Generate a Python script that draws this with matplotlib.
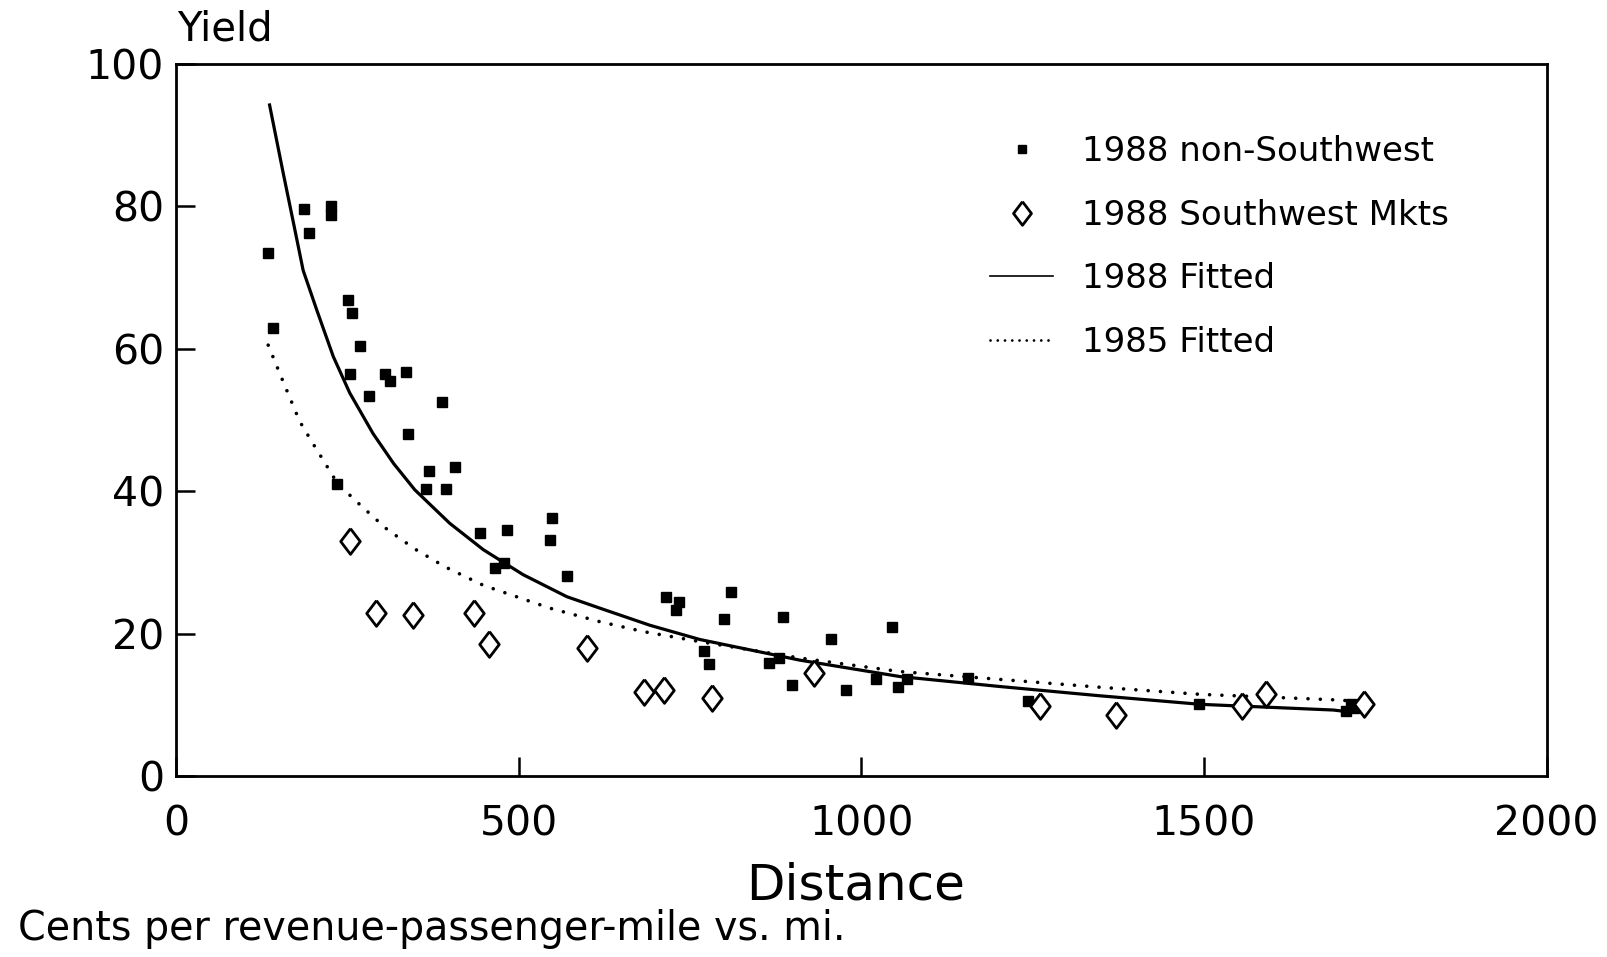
import matplotlib
matplotlib.use("Agg")
import matplotlib.pyplot as plt
from matplotlib.lines import Line2D

# 1988 non-Southwest markets (distance, yield)
nsw_dist = [133, 141, 186, 193, 225, 226, 250, 256, 253, 268, 281, 304, 312, 335,
            338, 388, 234, 368, 365, 394, 406, 443, 482, 465, 478, 548, 545, 570,
            715, 734, 729, 810, 800, 885, 770, 777, 865, 879, 899, 956, 977, 1021,
            1044, 1054, 1067, 1155, 1243, 1492, 1707, 1714, 1719]
nsw_yield = [73.4, 62.9, 79.6, 76.3, 80.0, 78.8, 66.8, 65.0, 56.5, 60.4, 53.3, 56.5,
             55.4, 56.7, 48.1, 52.5, 41.0, 42.9, 40.3, 40.3, 43.4, 34.2, 34.6, 29.3,
             29.9, 36.3, 33.2, 28.1, 25.1, 24.4, 23.3, 25.8, 22.1, 22.4, 17.6, 15.7,
             15.9, 16.6, 12.8, 19.2, 12.1, 13.6, 21.0, 12.6, 13.6, 13.75, 10.5, 10.2,
             9.1, 10.1, 9.6]

# 1988 Southwest markets
sw_dist = [254, 291, 346, 434, 456, 600, 682, 712, 782, 931, 1261, 1372, 1555, 1591, 1734]
sw_yield = [33.0, 22.9, 22.6, 22.9, 18.5, 18.0, 11.8, 12.1, 11.0, 14.45, 9.8, 8.6,
            9.9, 11.5, 10.2]

# fitted curves
fit88_dist = [136, 156, 171, 185, 205, 229, 253, 287, 317, 348, 399, 448, 506, 570,
              618, 691, 764, 910, 1056, 1202, 1348, 1495, 1689, 1715]
fit88_yield = [94.2, 84.6, 77.6, 71.0, 65.4, 58.9, 53.8, 48.1, 43.9, 40.2, 35.5, 31.8,
               28.3, 25.2, 23.6, 21.2, 19.2, 16.3, 14.0, 12.6, 11.3, 10.1, 9.3, 9.0]
fit85_dist = [134, 154, 167, 180, 198, 216, 235, 268, 307, 348, 392, 448, 545, 618,
              682, 764, 910, 1056, 1202, 1348, 1495, 1699, 1710]
fit85_yield = [60.5, 55.8, 52.8, 49.8, 46.9, 44.1, 41.1, 38.1, 34.7, 31.9, 29.4, 26.8,
               23.6, 21.7, 20.3, 18.9, 16.6, 14.7, 13.6, 12.5, 11.5, 10.7, 10.6]

xticks = [0, 500, 1000, 1500, 2000]
yticks = [0, 20, 40, 60, 80, 100]

diamond = [(0, 1), (0.76, 0), (0, -1), (-0.76, 0), (0, 1)]

fig = plt.figure(figsize=(16.08, 9.57), dpi=100)
ax = fig.add_axes([0.1097, 0.1888, 0.8521, 0.7447])

ax.plot(fit88_dist, fit88_yield, color='black', lw=2.3)
ax.plot(fit85_dist, fit85_yield, color='black', lw=2.6, linestyle=(0, (0.01, 3.4)),
        dash_capstyle='round')
ax.plot(nsw_dist, nsw_yield, linestyle='none', marker='s', ms=6.5, color='black')
ax.plot(sw_dist, sw_yield, linestyle='none', marker=diamond, ms=18.5, mfc='white',
        mec='black', mew=2)

ax.set_xlim(0, 2000)
ax.set_ylim(0, 100)
ax.set_xticks(xticks)
ax.set_yticks(yticks)
ax.tick_params(direction='in', length=14, width=1.8, labelsize=29.5)
ax.tick_params(axis='x', pad=20)
ax.tick_params(axis='y', pad=9)
for s in ax.spines.values():
    s.set_linewidth(2)

handles = [
    Line2D([], [], linestyle='none', marker='s', ms=6, color='black'),
    Line2D([], [], linestyle='none', marker=diamond, ms=17, mfc='white', mec='black', mew=2),
    Line2D([], [], color='black', lw=1.2),
    Line2D([], [], color='black', lw=2, linestyle=(0, (0.01, 2.6)), dash_capstyle='round'),
]
labels = ['1988 non-Southwest', '1988 Southwest Mkts', '1988 Fitted', '1985 Fitted']
ax.legend(handles, labels, loc='upper left', bbox_to_anchor=(0.5936, 0.90),
          frameon=False, fontsize=24.5, handlelength=1.87, labelspacing=0.9,
          handletextpad=0.85, borderpad=0, borderaxespad=0)

fig.text(0.110, 0.958, 'Yield', fontsize=29, ha='left', va='baseline')
fig.text(0.532, 0.0596, 'Distance', fontsize=36, ha='center', va='baseline')
fig.text(0.0115, 0.018, 'Cents per revenue-passenger-mile vs. mi.', fontsize=28.5,
         ha='left', va='baseline')

fig.savefig('out.png', dpi=100)
